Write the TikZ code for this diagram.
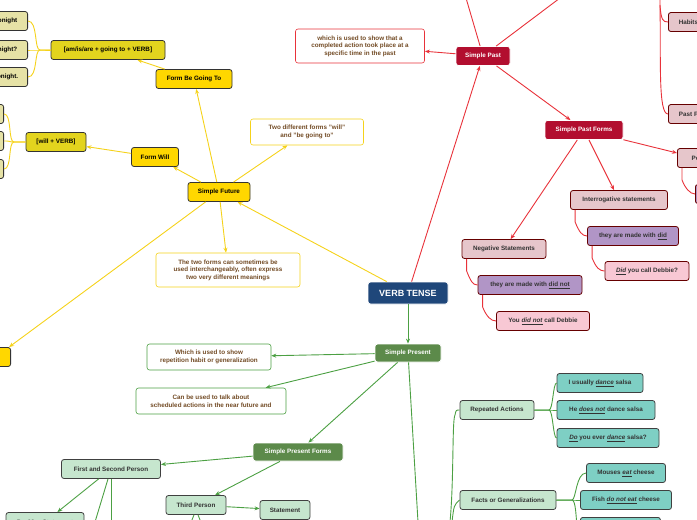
\documentclass[tikz,border=0pt]{standalone}
\usepackage{fontspec}
\setmainfont{Liberation Sans}
\usetikzlibrary{arrows.meta}
\begin{document}
\begin{tikzpicture}[x=1pt,y=-1pt,
  base/.style={rounded corners=2.5pt,line width=0.8pt,font=\fontsize{6.3}{7.5}\selectfont\bfseries,minimum height=19pt,inner xsep=3pt,inner ysep=1pt,align=center},
  ybox/.style={base,draw=black!80,fill=#1},
  note/.style={base,draw=#1,fill=white,text=brown!60!black,line width=0.6pt},
  rbox/.style={base,draw=white,fill=rd,text=white},
  pbox/.style={base,draw=red!40!black,fill=#1,text=black!80},
  gbox/.style={base,draw=white,fill=gd,text=white},
  lgbox/.style={base,draw=black!75,fill=#1,text=black!80},
  yl/.style={draw=ylc,line width=0.9pt},
  rl/.style={draw=rlc,line width=0.9pt},
  gl/.style={draw=glc,line width=0.9pt},
  ar/.style={-{Stealth[length=5pt,width=4pt]}}]
\definecolor{kh}{HTML}{E6E2A6}
\definecolor{yy}{HTML}{FFD700}
\definecolor{yd}{HTML}{E3D41E}
\definecolor{pk}{HTML}{E6C6CB}
\definecolor{pu}{HTML}{B195C6}
\definecolor{pi}{HTML}{F8C8D4}
\definecolor{lg}{HTML}{C6E6CE}
\definecolor{tl}{HTML}{7ECFC4}
\definecolor{rd}{HTML}{B20E2F}
\definecolor{gd}{HTML}{5C8A4A}
\definecolor{bl}{HTML}{1F477A}
\definecolor{ylc}{HTML}{F5D21A}
\definecolor{rlc}{HTML}{E8323A}
\definecolor{glc}{HTML}{4CA043}
\useasboundingbox (0,0) rectangle (697,520);
\clip (0,0) rectangle (697,520);
% yellow
\node[ybox=kh,minimum width=40pt,anchor=east] (p1) at (28,21) {onight};
\node[ybox=kh,minimum width=40pt,anchor=east] (p2) at (28,50) {night?};
\node[ybox=kh,minimum width=40pt,anchor=east] (p3) at (28,77) {onight.};
\node[ybox=kh,minimum width=20pt,anchor=east] (q1) at (4,114) {};
\node[ybox=kh,minimum width=20pt,anchor=east] (q2) at (4,141) {};
\node[ybox=kh,minimum width=20pt,anchor=east] (q3) at (4,169) {};
\node[ybox=yd,minimum width=114pt] (amv) at (108,50) {[am/is/are + going to + VERB]};
\node[ybox=yd,minimum width=60pt] (wv) at (56,142) {[will + VERB]};
\node[ybox=yy,minimum width=76pt] (fbg) at (194,79) {Form Be Going To};
\node[ybox=yy,minimum width=47pt] (fw) at (155,157) {Form Will};
\node[ybox=yy,minimum width=62pt] (sf) at (219,192) {Simple Future};
\node[note=ylc,minimum width=113pt,minimum height=26pt] (two) at (307,132) {Two different forms  "will"\\and "be going to"};
\node[note=ylc,minimum width=144pt,minimum height=34pt] (inter) at (228,270) {The two forms can sometimes be\\used interchangeably, often express\\two very different meanings};
\node[ybox=yy,minimum width=30pt,anchor=east] (ys) at (11,357) {s};
% blue
\node[base,draw=white,fill=bl,text=white,minimum width=80pt,minimum height=22pt,font=\fontsize{9}{10}\selectfont\bfseries] (vt) at (408,293) {VERB TENSE};
% red
\node[rbox,minimum width=54pt] (sp) at (483,56) {Simple Past};
\node[note=rlc,minimum width=129pt,minimum height=34pt] (wp) at (360,46) {which is used to show that a\\completed action took place at a\\specific time in the past};
\node[pbox=pk,minimum width=40pt,anchor=west] (hab) at (668,22) {Habits};
\node[pbox=pk,minimum width=40pt,anchor=west] (pastf) at (668,114) {Past F};
\node[rbox,minimum width=78pt] (spf) at (584,130) {Simple Past Forms};
\node[pbox=pk,minimum width=40pt,anchor=west] (pos) at (677,158) {Pos};
\node[pbox=pu,minimum width=40pt,anchor=west] (pos2) at (695,194) {};
\node[pbox=pk,minimum width=97pt] (int) at (619,200) {Interrogative statements};
\node[pbox=pu,minimum width=91pt] (did) at (633,236) {they are made with \underline{did}};
\node[pbox=pi,minimum width=84pt] (didq) at (647,271) {\underline{\itshape Did} you call Debbie?};
\node[pbox=pk,minimum width=84pt] (neg) at (504,249) {Negative Statements};
\node[pbox=pu,minimum width=104pt] (dnot) at (530,285) {they are made with \underline{did not}};
\node[pbox=pi,minimum width=93pt] (dnq) at (543,321) {You \underline{\itshape did not} call Debbie};
% green
\node[gbox,minimum width=66pt,minimum height=18pt] (spr) at (408,353) {Simple Present};
\node[note=glc,minimum width=124pt,minimum height=26pt] (wpr) at (209,357) {Which is used to show\\repetition habit or generalization};
\node[note=glc,minimum width=150pt,minimum height=26pt] (cbu) at (211,401) {Can be used to talk about\\scheduled actions in the near future and};
\node[gbox,minimum width=90pt,minimum height=18pt] (sprf) at (298,452) {Simple Present Forms};
\node[lgbox=lg,minimum width=99pt] (fsp) at (111,469) {First and Second Person};
\node[lgbox=lg,minimum width=60pt] (tp) at (196,505) {Third Person};
\node[lgbox=lg,minimum width=50pt] (st) at (285,510) {Statement};
\node[lgbox=lg,minimum width=78pt] (pst) at (45,522) {Positive Statement};
\node[lgbox=lg,minimum width=74pt] (ra) at (497,410) {Repeated Actions};
\node[lgbox=lg,minimum width=96pt] (fg) at (508,500) {Facts or Generalizations};
\node[lgbox=tl,minimum width=86pt] (t1) at (600,383) {I usually \underline{\itshape dance} salsa};
\node[lgbox=tl,minimum width=98pt] (t2) at (606,410) {He \underline{\itshape does not} dance salsa};
\node[lgbox=tl,minimum width=102pt] (t3) at (608,438) {\underline{\itshape Do} you ever \underline{\itshape dance} salsa?};
\node[lgbox=tl,minimum width=79pt] (t4) at (626,473) {Mouses \underline{\itshape eat} cheese};
\node[lgbox=tl,minimum width=91pt] (t5) at (626,500) {Fish \underline{\itshape do not eat} cheese};
\node[lgbox=tl,minimum width=80pt,anchor=north west] (t6) at (580,517) {};
% yellow connectors
\draw[yl,ar] (fbg) -- (amv);
\draw[yl,ar] (sf) -- (fbg);
\draw[yl,ar] (sf) -- (fw);
\draw[yl,ar] (fw) -- (wv);
\draw[yl,ar] (sf) -- (two);
\draw[yl,ar] (sf) -- (inter);
\draw[yl,ar] (sf) -- (ys);
\draw[yl,ar] (vt) -- (sf);
\foreach \p in {p1,p2,p3}{\draw[yl] (amv.west) -- (40,50) .. controls (34,50) and (38,0|-\p.east) .. (\p.east);}
\foreach \p in {q1,q2,q3}{\draw[yl] (wv.west) -- (14,142) .. controls (8,142) and (12,0|-\p.east) .. (\p.east);}
% red connectors
\draw[rl,ar] (vt) -- (sp);
\draw[rl,ar] (sp) -- (wp);
\coordinate (up1) at (466,-2);
\coordinate (up2) at (560,-2);
\draw[rl] (sp) -- (up1);
\draw[rl] (sp) -- (up2);
\coordinate (up3) at (660,-2);
\draw[rl] (up3) -- (660,5) .. controls (661,20) and (663,22) .. (hab.west);
\draw[rl] (660,5) .. controls (661,60) and (658,114) .. (pastf.west);
\draw[rl,ar] (sp) -- (spf);
\draw[rl,ar] (spf) -- (pos);
\draw[rl,ar] (spf) -- (int);
\draw[rl,ar] (spf) -- (neg);
\draw[rl] (pos.south west)++(5,0) -- ++(0,12) .. controls +(3,8) and +(-5,0) .. (pos2.west);
\draw[rl] (int.south west)++(5,0) -- ++(0,12) .. controls +(4,10) and +(-5,0) .. (did.west);
\draw[rl] (did.south west)++(5,0) -- ++(0,12) .. controls +(4,10) and +(-5,0) .. (didq.west);
\draw[rl] (neg.south west)++(5,0) -- ++(0,12) .. controls +(4,10) and +(-5,0) .. (dnot.west);
\draw[rl] (dnot.south west)++(5,0) -- ++(0,12) .. controls +(4,10) and +(-5,0) .. (dnq.west);
% green connectors
\draw[gl,ar] (vt) -- (spr);
\draw[gl,ar] (spr) -- (wpr);
\draw[gl,ar] (spr) -- (cbu);
\draw[gl,ar] (spr) -- (sprf);
\draw[gl,ar] (sprf) -- (fsp);
\draw[gl,ar] (sprf) -- (tp);
\draw[gl,ar] (tp) -- (st);
\draw[gl,ar] (fsp) -- (pst);
\coordinate (b1) at (95,522);
\coordinate (b2) at (111,522);
\draw[gl] (fsp) -- (b1);
\draw[gl] (fsp.south) -- (b2);
\coordinate (b3) at (418,522);
\draw[gl] (spr) -- (b3);
\draw[gl] (tp.south)++(-2,0) .. controls +(-2,5) .. ++(-4,10);
\draw[gl] (tp.south)++(2,0) .. controls +(2,5) .. ++(4,10);
\coordinate (b4) at (450,522);
\draw[gl] (b4) .. controls (454,480) and (452,420) .. (455,415) .. controls (456,410) .. (ra.west);
\draw[gl] (452,522) .. controls (454,505) .. (fg.west);
\foreach \t in {t1,t2,t3}{\draw[gl] (ra.east) -- (549,410) .. controls (553,410) and (553,0|-\t.west) .. (\t.west);}
\foreach \t in {t4,t5}{\draw[gl] (fg.east) -- (572,500) .. controls (576,500) and (576,0|-\t.west) .. (\t.west);}
\draw[gl] (fg.east) -- (572,500) .. controls (576,500) and (576,520) .. (577,524);
\end{tikzpicture}
\end{document}
